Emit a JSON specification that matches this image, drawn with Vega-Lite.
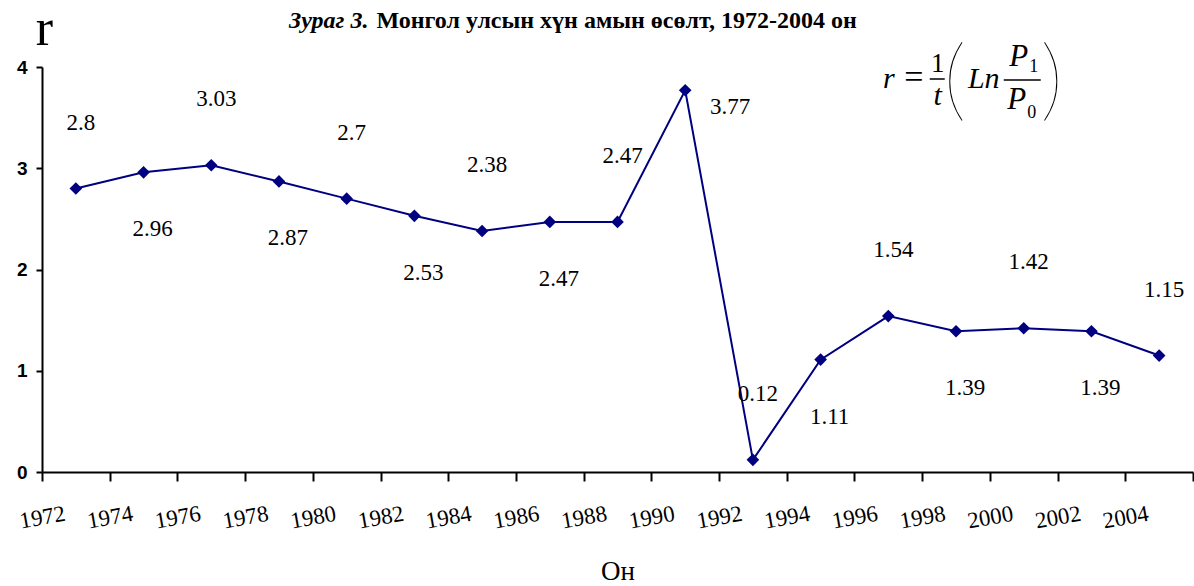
{
  "$schema": "https://vega.github.io/schema/vega-lite/v6.json",
  "autosize": "none",
  "padding": {"left": 42, "top": 67, "right": 1, "bottom": 114},
  "width": 1151,
  "height": 405,
  "background": "white",
  "config": {"view": {"stroke": null}},
  "data": {
    "values": [
      {"year": "1972", "r": 2.8, "pos": "above"},
      {"year": "1974", "r": 2.96, "pos": "below"},
      {"year": "1976", "r": 3.03, "pos": "above"},
      {"year": "1978", "r": 2.87, "pos": "below"},
      {"year": "1980", "r": 2.7, "pos": "above"},
      {"year": "1982", "r": 2.53, "pos": "below"},
      {"year": "1984", "r": 2.38, "pos": "above"},
      {"year": "1986", "r": 2.47, "pos": "below"},
      {"year": "1988", "r": 2.47, "pos": "above"},
      {"year": "1990", "r": 3.77, "pos": "right"},
      {"year": "1992", "r": 0.12, "pos": "above"},
      {"year": "1994", "r": 1.11, "pos": "below"},
      {"year": "1996", "r": 1.54, "pos": "above"},
      {"year": "1998", "r": 1.39, "pos": "below"},
      {"year": "2000", "r": 1.42, "pos": "above"},
      {"year": "2002", "r": 1.39, "pos": "below"},
      {"year": "2004", "r": 1.15, "pos": "above"}
    ]
  },
  "encoding": {
    "x": {
      "field": "year", "type": "ordinal",
      "scale": {"type": "band", "paddingInner": 0, "paddingOuter": 0},
      "axis": {
        "title": "Он", "titleFont": "Liberation Serif", "titleFontSize": 27, "titleFontWeight": "normal",
        "titleColor": "black", "titleY": 107, "titleBaseline": "alphabetic",
        "labelFont": "Liberation Serif", "labelFontSize": 23, "labelAngle": -10,
        "labelAlign": "center", "labelBaseline": "middle", "labelPadding": 36,
        "labelOffset": -33.85, "tickBand": "extent", "labelOverlap": false,
        "tickSize": 9, "tickWidth": 2, "domainWidth": 2,
        "domainColor": "black", "tickColor": "black", "labelColor": "black", "grid": false
      }
    },
    "y": {
      "field": "r", "type": "quantitative",
      "scale": {"domain": [0, 4], "nice": false, "zero": true},
      "axis": {
        "title": "r", "titleAngle": 0, "titleX": 2, "titleY": -23, "titleAlign": "center",
        "titleBaseline": "alphabetic", "titleFont": "Liberation Serif", "titleFontSize": 52,
        "titleFontWeight": "normal", "titleColor": "black",
        "values": [0, 1, 2, 3, 4], "labelFont": "Liberation Sans", "labelFontWeight": "bold",
        "labelFontSize": 19, "labelPadding": 9, "labelColor": "black",
        "tickSize": 6, "tickWidth": 2, "domainWidth": 2,
        "domainColor": "black", "tickColor": "black", "grid": false
      }
    }
  },
  "layer": [
    {"mark": {"type": "line", "color": "#000080", "strokeWidth": 2}},
    {"mark": {"type": "point", "shape": "diamond", "filled": true, "size": 160, "color": "#000080", "opacity": 1}},
    {
      "transform": [{"filter": "datum.pos === 'above'"}],
      "mark": {"type": "text", "font": "Liberation Serif", "fontSize": 23, "dx": 5, "dy": -66, "baseline": "middle", "color": "black"},
      "encoding": {"text": {"field": "r", "type": "quantitative"}}
    },
    {
      "transform": [{"filter": "datum.pos === 'below'"}],
      "mark": {"type": "text", "font": "Liberation Serif", "fontSize": 23, "dx": 9, "dy": 57, "baseline": "middle", "color": "black"},
      "encoding": {"text": {"field": "r", "type": "quantitative"}}
    },
    {
      "transform": [{"filter": "datum.pos === 'right'"}],
      "mark": {"type": "text", "font": "Liberation Serif", "fontSize": 23, "dx": 45, "dy": 17, "baseline": "middle", "color": "black"},
      "encoding": {"text": {"field": "r", "type": "quantitative"}}
    },
    {
      "transform": [{"filter": "datum.year === '1982'"}],
      "mark": {"type": "text", "text": "Зураг 3.", "font": "Liberation Serif", "fontSize": 24, "fontWeight": "bold", "fontStyle": "italic", "align": "right", "baseline": "alphabetic", "dx": -46, "dy": -39, "color": "black"},
      "encoding": {"y": {"datum": 4, "type": "quantitative"}}
    },
    {
      "transform": [{"filter": "datum.year === '1982'"}],
      "mark": {"type": "text", "text": "Монгол улсын хүн амын өсөлт, 1972-2004 он", "font": "Liberation Serif", "fontSize": 24, "fontWeight": "bold", "align": "left", "baseline": "alphabetic", "dx": -38, "dy": -39, "color": "black"},
      "encoding": {"y": {"datum": 4, "type": "quantitative"}}
    },
    {
      "transform": [{"filter": "datum.year === '2000'"}],
      "mark": {"type": "text", "text": "r", "font": "Liberation Serif", "fontSize": 30, "fontStyle": "italic", "align": "center", "baseline": "alphabetic", "dx": -135, "dy": 21, "color": "black"},
      "encoding": {"y": {"datum": 4, "type": "quantitative"}}
    },
    {
      "transform": [{"filter": "datum.year === '2000'"}],
      "mark": {"type": "text", "text": "=", "font": "Liberation Serif", "fontSize": 34, "align": "center", "baseline": "alphabetic", "dx": -110, "dy": 21, "color": "black"},
      "encoding": {"y": {"datum": 4, "type": "quantitative"}}
    },
    {
      "transform": [{"filter": "datum.year === '2000'"}],
      "mark": {"type": "text", "text": "1", "font": "Liberation Serif", "fontSize": 27, "align": "center", "baseline": "alphabetic", "dx": -86, "dy": 5, "color": "black"},
      "encoding": {"y": {"datum": 4, "type": "quantitative"}}
    },
    {
      "transform": [{"filter": "datum.year === '2000'"}],
      "mark": {"type": "tick", "orient": "horizontal", "size": 15, "thickness": 1.5, "xOffset": -86.5, "yOffset": 12, "color": "black", "opacity": 1},
      "encoding": {"y": {"datum": 4, "type": "quantitative"}}
    },
    {
      "transform": [{"filter": "datum.year === '2000'"}],
      "mark": {"type": "text", "text": "t", "font": "Liberation Serif", "fontSize": 30, "fontStyle": "italic", "align": "center", "baseline": "alphabetic", "dx": -86, "dy": 38, "color": "black"},
      "encoding": {"y": {"datum": 4, "type": "quantitative"}}
    },
    {
      "transform": [{"filter": "datum.year === '2000'"}],
      "mark": {"type": "text", "text": "(", "font": "Lato", "fontWeight": 100, "fontSize": 90, "align": "center", "baseline": "middle", "dx": -69, "dy": 16, "color": "black"},
      "encoding": {"y": {"datum": 4, "type": "quantitative"}}
    },
    {
      "transform": [{"filter": "datum.year === '2000'"}],
      "mark": {"type": "text", "text": "Ln", "font": "Liberation Serif", "fontSize": 30, "fontStyle": "italic", "align": "center", "baseline": "alphabetic", "dx": -40, "dy": 21, "color": "black"},
      "encoding": {"y": {"datum": 4, "type": "quantitative"}}
    },
    {
      "transform": [{"filter": "datum.year === '2000'"}],
      "mark": {"type": "tick", "orient": "horizontal", "size": 37, "thickness": 1.5, "xOffset": -1.5, "yOffset": 13, "color": "black", "opacity": 1},
      "encoding": {"y": {"datum": 4, "type": "quantitative"}}
    },
    {
      "transform": [{"filter": "datum.year === '2000'"}],
      "mark": {"type": "text", "text": "P", "font": "Liberation Serif", "fontSize": 31, "fontStyle": "italic", "align": "center", "baseline": "alphabetic", "dx": -5, "dy": -1, "color": "black"},
      "encoding": {"y": {"datum": 4, "type": "quantitative"}}
    },
    {
      "transform": [{"filter": "datum.year === '2000'"}],
      "mark": {"type": "text", "text": "1", "font": "Liberation Serif", "fontSize": 18, "align": "center", "baseline": "alphabetic", "dx": 10, "dy": 5, "color": "black"},
      "encoding": {"y": {"datum": 4, "type": "quantitative"}}
    },
    {
      "transform": [{"filter": "datum.year === '2000'"}],
      "mark": {"type": "text", "text": "P", "font": "Liberation Serif", "fontSize": 31, "fontStyle": "italic", "align": "center", "baseline": "alphabetic", "dx": -7, "dy": 42, "color": "black"},
      "encoding": {"y": {"datum": 4, "type": "quantitative"}}
    },
    {
      "transform": [{"filter": "datum.year === '2000'"}],
      "mark": {"type": "text", "text": "0", "font": "Liberation Serif", "fontSize": 18, "align": "center", "baseline": "alphabetic", "dx": 8, "dy": 51, "color": "black"},
      "encoding": {"y": {"datum": 4, "type": "quantitative"}}
    },
    {
      "transform": [{"filter": "datum.year === '2000'"}],
      "mark": {"type": "text", "text": ")", "font": "Lato", "fontWeight": 100, "fontSize": 90, "align": "center", "baseline": "middle", "dx": 28, "dy": 16, "color": "black"},
      "encoding": {"y": {"datum": 4, "type": "quantitative"}}
    }
  ]
}
